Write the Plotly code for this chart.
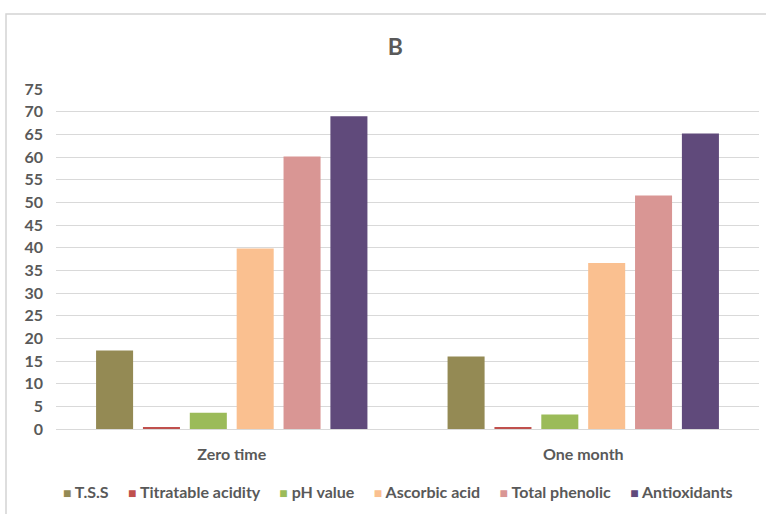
import plotly.graph_objects as go

# Storage periods and measured parameters
periods = ["Zero time", "One month"]
tss = [17.3, 16.0]
titratable_acidity = [0.4, 0.4]
ph_value = [3.6, 3.2]
ascorbic_acid = [39.8, 36.6]
total_phenolic = [60.1, 51.5]
antioxidants = [69.0, 65.2]

series = [
    ("T.S.S", tss, "#948A54"),
    ("Titratable acidity", titratable_acidity, "#C0504D"),
    ("pH value", ph_value, "#9BBB59"),
    ("Ascorbic acid", ascorbic_acid, "#FAC090"),
    ("Total phenolic", total_phenolic, "#D99694"),
    ("Antioxidants", antioxidants, "#604A7B"),
]

y_ticks = list(range(0, 80, 5))

font_family = "Lato, 'Open Sans', sans-serif"
text_color = "#595959"

fig = go.Figure()
for name, values, color in series:
    fig.add_trace(go.Bar(
        x=periods, y=values, name=name,
        marker=dict(color=color, line=dict(width=0)),
    ))

# Compact single-row legend: small coloured squares followed by series names
legend_parts = [
    f"<span style='color:{color};font-size:14px'>■</span>&nbsp;{name}"
    for name, _, color in series
]
legend_text = "&nbsp;&nbsp;&nbsp;&nbsp;&nbsp;".join(legend_parts)

fig.update_layout(
    width=766, height=514,
    paper_bgcolor="white", plot_bgcolor="white",
    margin=dict(l=56, r=7, t=89, b=85),
    barmode="group", bargap=0.2, bargroupgap=0.21,
    title=dict(text="<b>B</b>", x=0.516, xanchor="center", y=0.909, yanchor="middle",
               font=dict(family=font_family, size=23, color=text_color)),
    font=dict(family=font_family, color=text_color),
    showlegend=False,
    xaxis=dict(showgrid=False, showline=False, ticks="", ticklabelstandoff=14,
               tickfont=dict(family=font_family, size=16, color=text_color, weight="bold")),
    yaxis=dict(range=[0, 75], tickvals=y_ticks, showgrid=True, gridcolor="#D9D9D9",
               gridwidth=1, zeroline=True, zerolinecolor="#D9D9D9", zerolinewidth=1,
               showline=False, ticks="", ticklabelstandoff=12,
               tickfont=dict(family=font_family, size=16, color=text_color, weight="bold")),
    annotations=[dict(text=legend_text, xref="paper", yref="paper",
                      x=0.487, y=-0.185, xanchor="center", yanchor="middle",
                      showarrow=False,
                      font=dict(family=font_family, size=16, color=text_color,
                                weight="bold"))],
    shapes=[dict(type="rect", xref="paper", yref="paper",
                 x0=-50 / 703, x1=1.2, y0=-0.5, y1=(514 - 14 - 85) / 340,
                 line=dict(color="#D4D4D4", width=1.5), fillcolor="rgba(0,0,0,0)",
                 layer="below")],
)

fig.write_html("out.html")
